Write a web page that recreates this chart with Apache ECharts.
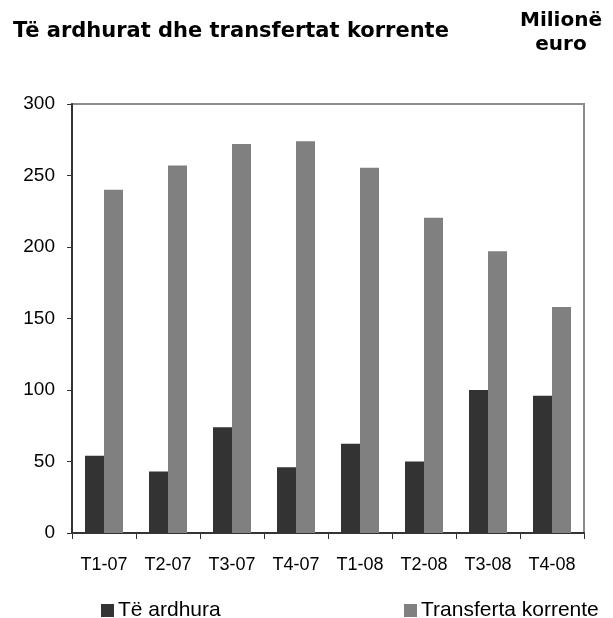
<!DOCTYPE html>
<html>
<head>
<meta charset="utf-8">
<script src="https://cdn.jsdelivr.net/npm/echarts@6/dist/echarts.min.js"></script>
<style>
  html, body { margin: 0; padding: 0; background: #fff; }
  #chart { width: 613px; height: 618px; }
</style>
</head>
<body>
<div id="chart"></div>
<script>
// kategorite (tremujoret)
const categories = ['T1-07', 'T2-07', 'T3-07', 'T4-07', 'T1-08', 'T2-08', 'T3-08', 'T4-08']
const teArdhura = [54, 43, 74, 46, 62.5, 50, 100, 96]
const transferta = [240, 257, 272, 274, 255.5, 220.5, 197, 158]
const yTicks = [0, 50, 100, 150, 200, 250, 300]

const font = 'Liberation Sans, Arial, sans-serif'

const chart = echarts.init(document.getElementById('chart'))
const option = {
  backgroundColor: '#fff',
  animation: false,
  title: [
    {
      text: 'Të ardhurat dhe transfertat korrente',
      left: 13,
      top: 21,
      padding: 0,
      textStyle: { fontFamily: 'DejaVu Sans', fontWeight: 'bold', fontSize: 21, color: '#000' }
    },
    {
      text: 'Milionë\neuro',
      left: 561,
      top: 9,
      padding: 0,
      textAlign: 'center',
      textStyle: { fontFamily: 'DejaVu Sans', fontWeight: 'bold', fontSize: 20, color: '#000', lineHeight: 24 }
    }
  ],
  legend: [
    {
      data: ['Të ardhura'],
      left: 101,
      top: 600,
      padding: 0,
      itemWidth: 13,
      itemHeight: 13,
      icon: 'rect',
      textStyle: { fontFamily: font, fontSize: 21, color: '#000', padding: [0, 0, 0, -1] }
    },
    {
      data: ['Transferta korrente'],
      left: 404,
      top: 600,
      padding: 0,
      itemWidth: 13,
      itemHeight: 13,
      icon: 'rect',
      textStyle: { fontFamily: font, fontSize: 21, color: '#000', padding: [0, 0, 0, -1] }
    }
  ],
  grid: {
    left: 72,
    right: 29,
    top: 104,
    bottom: 85,
    show: true,
    borderColor: '#8c8c8c',
    borderWidth: 2,
    backgroundColor: '#fff'
  },
  xAxis: {
    type: 'category',
    data: categories,
    axisLine: { lineStyle: { color: '#333', width: 2 } },
    axisTick: { show: true, length: 6, lineStyle: { color: '#333' } },
    axisLabel: { interval: 0, fontFamily: font, fontSize: 18, color: '#000', margin: 23 }
  },
  yAxis: {
    type: 'value',
    min: yTicks[0],
    max: yTicks[yTicks.length - 1],
    interval: 50,
    axisLine: { show: true, lineStyle: { color: '#333', width: 2 } },
    axisTick: { show: true, length: 5, lineStyle: { color: '#333' } },
    splitLine: { show: false },
    axisLabel: { fontFamily: font, fontSize: 19, color: '#000', margin: 17 }
  },
  series: [
    {
      name: 'Të ardhura',
      type: 'bar',
      data: teArdhura,
      barWidth: 19,
      barGap: '0%',
      itemStyle: { color: '#333333' }
    },
    {
      name: 'Transferta korrente',
      type: 'bar',
      data: transferta,
      barWidth: 19,
      barGap: '0%',
      itemStyle: { color: '#808080' }
    }
  ]
}
chart.setOption(option)
</script>
</body>
</html>
